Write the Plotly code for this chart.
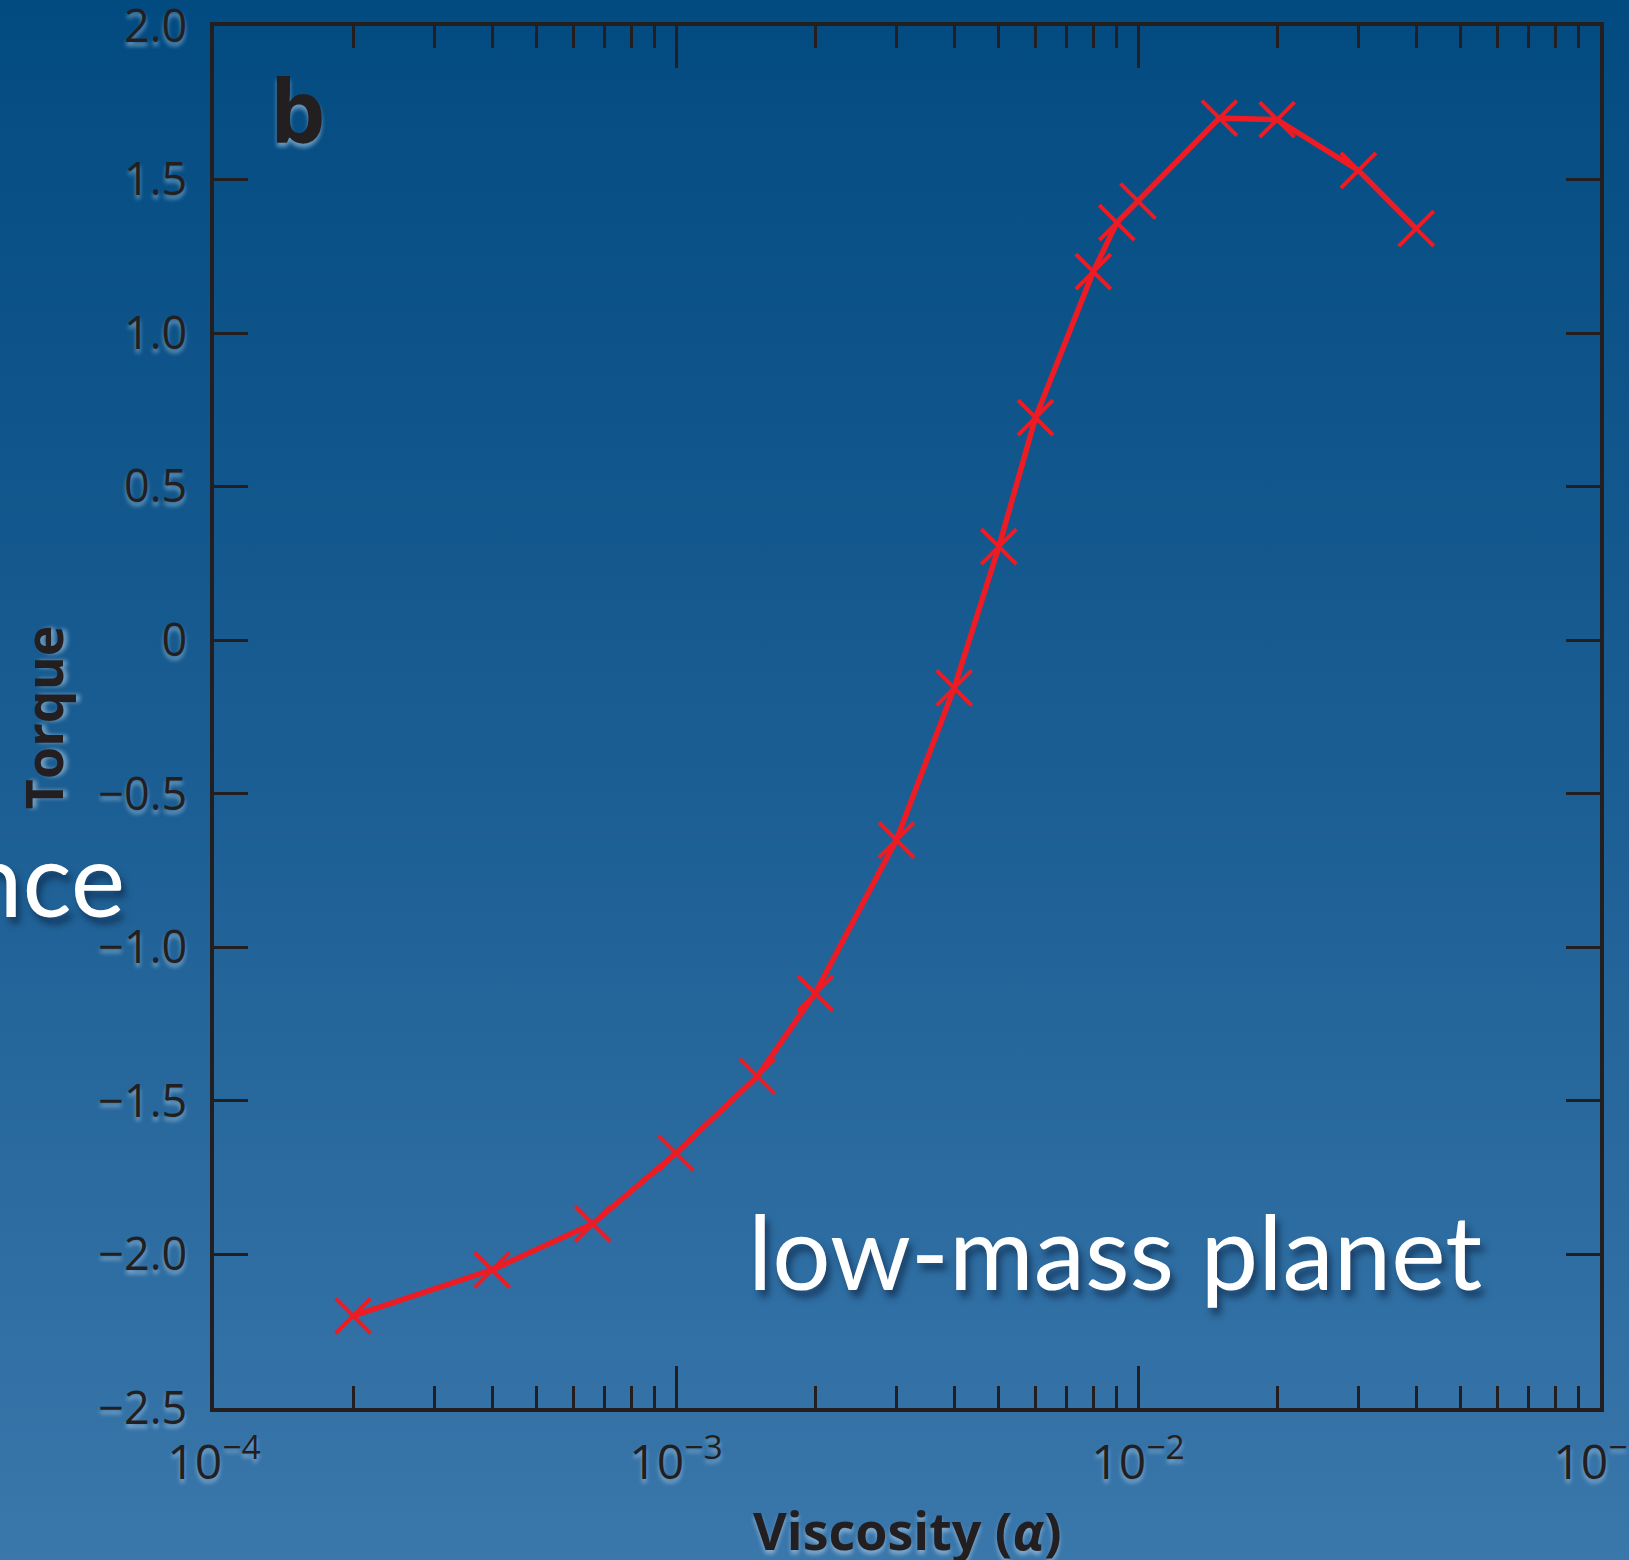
import base64
import plotly.graph_objects as go

# ---- data ----
viscosity = [2.0e-4, 4.0e-4, 6.6e-4, 1.0e-3, 1.5e-3, 2.0e-3, 3.0e-3, 4.0e-3,
             5.0e-3, 6.0e-3, 8.0e-3, 9.0e-3, 1.0e-2, 1.5e-2, 2.0e-2, 3.0e-2, 4.0e-2]
torque = [-2.20, -2.05, -1.90, -1.67, -1.42, -1.15, -0.65, -0.155,
          0.305, 0.725, 1.20, 1.36, 1.43, 1.70, 1.695, 1.53, 1.34]

y_tickvals = [2.0, 1.5, 1.0, 0.5, 0, -0.5, -1.0, -1.5, -2.0, -2.5]
y_ticktext = ["2.0", "1.5", "1.0", "0.5", "0", "\u22120.5", "\u22121.0", "\u22121.5", "\u22122.0", "\u22122.5"]
x_tickvals = [1e-4, 1e-3, 1e-2, 1e-1]
x_ticktext = ["10<sup>\u22124</sup>", "10<sup>\u22123</sup>", "10<sup>\u22122</sup>", "10<sup>\u22121</sup>"]
x_minor = [k * 10.0 ** e for e in (-4, -3, -2) for k in range(2, 10)]

# ---- style ----
INK = "#231f20"
RED = "#ed1c24"
FONT = "Open Sans"
GLOW = "0px 4px 4px rgba(190,215,235,0.55)"
WHITE_SHADOW = "4px 7px 7px rgba(10,30,60,0.6)"

svg = ('<svg xmlns="http://www.w3.org/2000/svg" width="10" height="100" preserveAspectRatio="none">'
       '<defs><linearGradient id="g" x1="0" y1="0" x2="0" y2="1">'
       '<stop offset="0" stop-color="#024b81"/><stop offset="0.5" stop-color="#1b5e93"/>'
       '<stop offset="1" stop-color="#3a77ab"/></linearGradient></defs>'
       '<rect width="10" height="100" fill="url(#g)"/></svg>')
bg_uri = "data:image/svg+xml;base64," + base64.b64encode(svg.encode()).decode()

fig = go.Figure()
fig.add_trace(go.Scatter(
    x=viscosity, y=torque, mode="lines+markers",
    line=dict(color=RED, width=5.5),
    marker=dict(symbol="x-thin", size=35, line=dict(color=RED, width=4)),
    showlegend=False, hoverinfo="skip"))

W, H = 1629, 1560
L, R, T, B = 214, 29, 26, 152

fig.update_layout(
    width=W, height=H,
    margin=dict(l=L, r=R, t=T, b=B, pad=0, autoexpand=False),
    paper_bgcolor="#1b5e93",
    plot_bgcolor="rgba(0,0,0,0)",
    images=[dict(source=bg_uri, xref="paper", yref="paper",
                 x=-L / (W - L - R), y=1 + T / (H - T - B),
                 sizex=W / (W - L - R), sizey=H / (H - T - B),
                 xanchor="left", yanchor="top", sizing="stretch", layer="below")],
    xaxis=dict(
        type="log", range=[-4, -1], automargin=False,
        tickmode="array", tickvals=x_tickvals, ticktext=x_ticktext,
        ticks="inside", ticklen=42, tickwidth=3, tickcolor=INK,
        minor=dict(tickmode="array", tickvals=x_minor, ticks="inside",
                   ticklen=22, tickwidth=3, tickcolor=INK, showgrid=False),
        showline=True, linecolor=INK, linewidth=3.5, mirror="allticks",
        showgrid=False, zeroline=False,
        tickfont=dict(family=FONT, size=48, color=INK, shadow=GLOW),
        ticklabelstandoff=10, ticklabeloverflow="allow",
    ),
    yaxis=dict(
        range=[-2.5, 2.0], automargin=False,
        tickmode="array", tickvals=y_tickvals, ticktext=y_ticktext,
        ticks="inside", ticklen=34, tickwidth=3, tickcolor=INK,
        showline=True, linecolor=INK, linewidth=3.5, mirror="allticks",
        showgrid=False, zeroline=False,
        tickfont=dict(family=FONT, size=45, color=INK, shadow=GLOW),
        ticklabelstandoff=14, ticklabeloverflow="allow",
    ),
    annotations=[
        dict(text="<b>b</b>", xref="paper", yref="paper", x=0.0606, y=0.94,
             showarrow=False, xanchor="center", yanchor="middle",
             font=dict(family=FONT, size=88, color=INK, shadow=GLOW)),
        dict(text="low-mass planet", xref="paper", yref="paper", x=0.650, y=0.114,
             showarrow=False, xanchor="center", yanchor="middle",
             font=dict(family="Lato", size=103, color="white", shadow=WHITE_SHADOW)),
        dict(text="nce", xref="paper", yref="paper", x=-0.063, y=0.384,
             showarrow=False, xanchor="right", yanchor="middle",
             font=dict(family="Lato", size=103, color="white", shadow=WHITE_SHADOW)),
        dict(text="<b>Torque</b>", xref="paper", yref="paper", x=-0.124, y=0.5,
             textangle=-90, showarrow=False, xanchor="center", yanchor="middle",
             font=dict(family=FONT, size=52, color=INK, shadow=GLOW)),
        dict(text="<b>Viscosity (<i>\u03b1</i>)</b>", xref="paper", yref="paper", x=0.5, y=-0.0876,
             showarrow=False, xanchor="center", yanchor="middle",
             font=dict(family=FONT, size=52, color=INK, shadow=GLOW)),
    ],
)

fig.write_html("out.html")
